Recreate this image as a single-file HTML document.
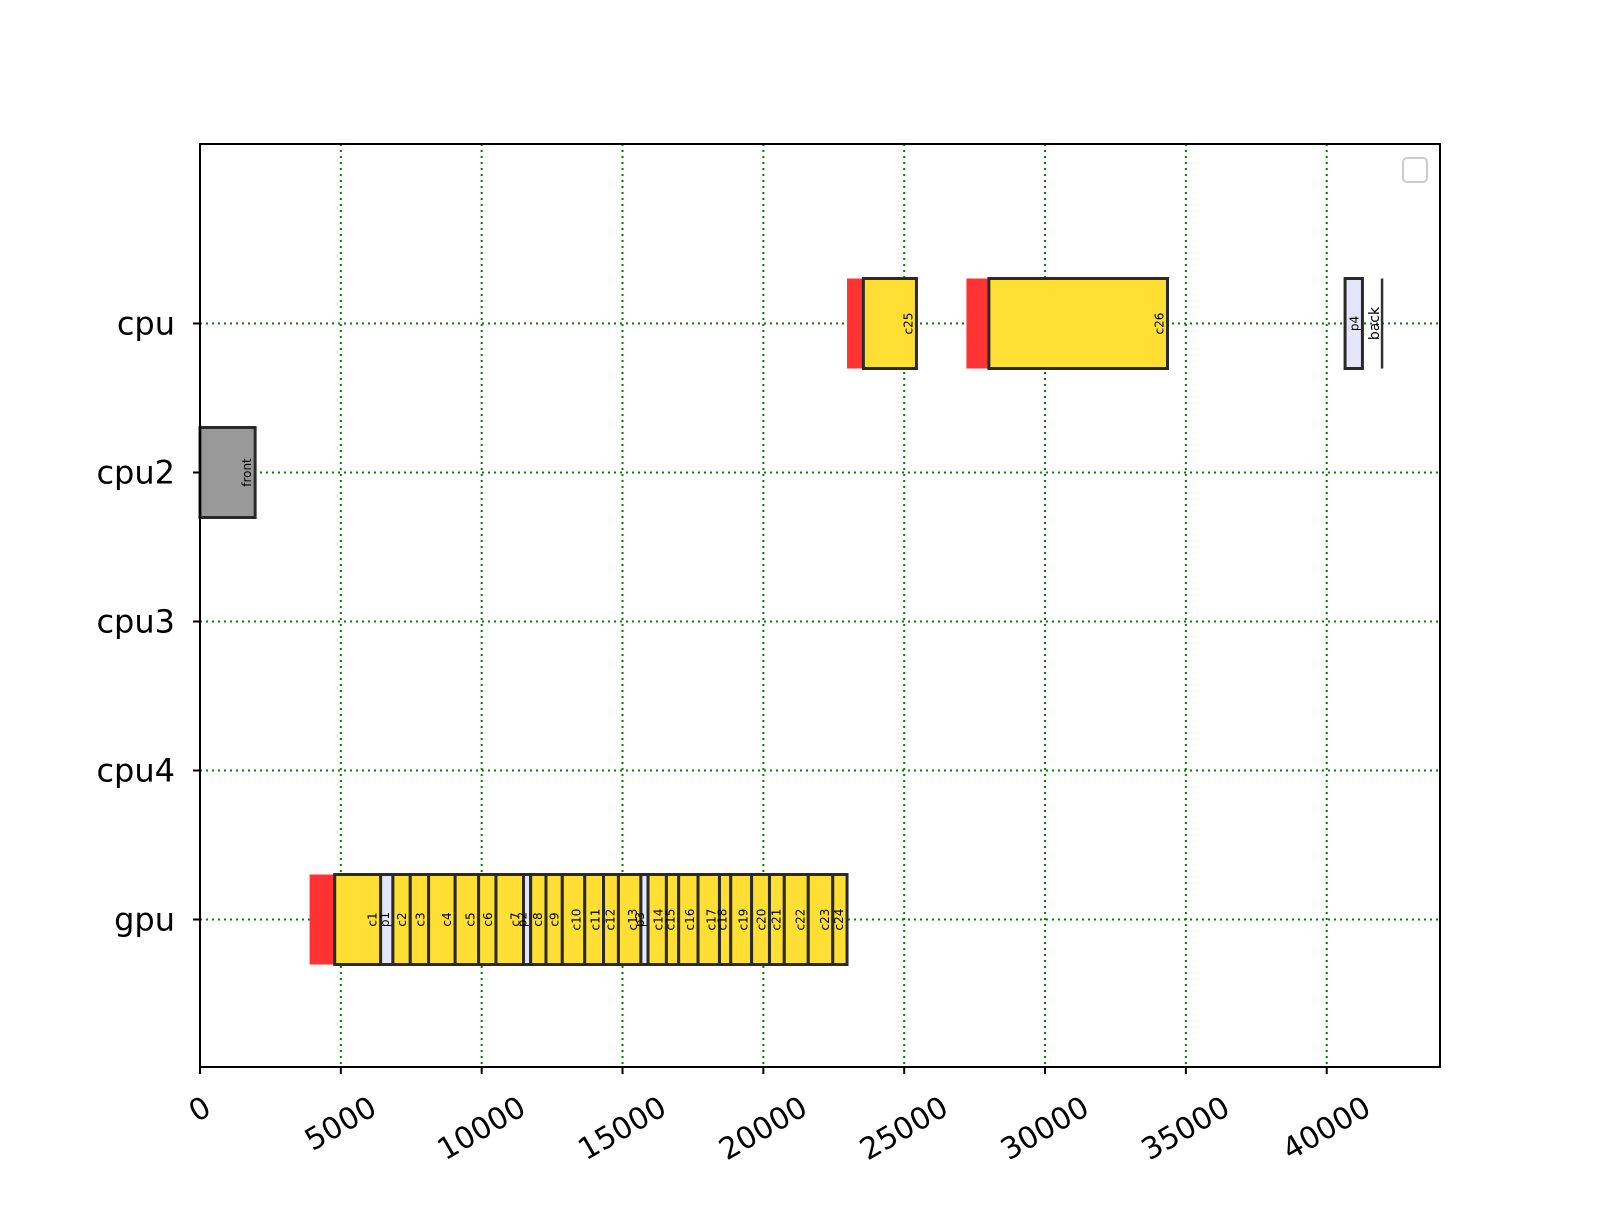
<!DOCTYPE html>
<html><head><meta charset="utf-8"><style>
body{margin:0;background:#fff}
svg{font-family:"DejaVu Sans","Liberation Sans",sans-serif}
</style></head><body>
<svg id="chart" width="1600" height="1200" viewBox="0 0 1600 1200" xmlns="http://www.w3.org/2000/svg">
<rect width="1600" height="1200" fill="#fff"/>
<g id="grid"></g>
<g id="bars"></g>
<rect x="200" y="144" width="1240" height="923" fill="none" stroke="#000" stroke-width="2"/>
<g id="ticks"></g>
<rect x="1403" y="158" width="24" height="24" rx="4" fill="#fff" stroke="#ccc" stroke-width="2"/>
</svg>
<script>
const rows = ["cpu","cpu2","cpu3","cpu4","gpu"];
const xTicks = [0,5000,10000,15000,20000,25000,30000,35000,40000];
const barRows = ["cpu2","gpu","gpu","gpu","gpu","gpu","gpu","gpu","gpu","gpu","gpu","gpu","gpu","gpu","gpu","gpu","gpu","gpu","gpu","gpu","gpu","gpu","gpu","gpu","gpu","gpu","gpu","gpu","gpu","cpu","cpu","cpu","cpu","cpu","cpu"];
const barLabels = ["front","","c1","p1","c2","c3","c4","c5","c6","c7","p2","c8","c9","c10","c11","c12","c13","p3","c14","c15","c16","c17","c18","c19","c20","c21","c22","c23","c24","","c25","","c26","p4","back"];
const barKinds = ["front","wait","c","p","c","c","c","c","c","c","p","c","c","c","c","c","c","p","c","c","c","c","c","c","c","c","c","c","c","wait","c","wait","c","p","back"];
const barStart = [0,3891,4783,6413,6848,7464,8116,9058,9891,10507,11486,11739,12283,12862,13659,14326,14855,15652,15906,16558,16993,17681,18442,18841,19583,20217,20743,21594,22464,22971,23551,27210,28007,40652,41920];
const barEnd = [1957,4783,6413,6848,7464,8116,9058,9891,10507,11486,11739,12283,12862,13659,14326,14855,15652,15906,16558,16993,17681,18442,18841,19583,20217,20743,21594,22464,22971,23551,25435,28007,34348,41268,41990];
const NS="http://www.w3.org/2000/svg";
const X0=200,X1=1440,XMAX=44022,YTOP=144,YBOT=1067;
const xs=v=>X0+v*(X1-X0)/XMAX;
const ys=r=>323.5+rows.indexOf(r)*149;
function mk(t,a,p){const e=document.createElementNS(NS,t);for(const k in a)e.setAttribute(k,a[k]);p.appendChild(e);return e;}
const grid=document.getElementById('grid'),bars=document.getElementById('bars'),ticks=document.getElementById('ticks');
const XFS=30;
xTicks.forEach(v=>{
 const l=mk('line',{x1:xs(v),x2:xs(v),y1:YTOP,y2:YBOT,stroke:'#008000','stroke-width':2,'stroke-dasharray':'2,4'},grid);
 
 
 const tk=mk('line',{x1:xs(v),x2:xs(v),y1:YBOT,y2:YBOT+7,stroke:'#000','stroke-width':2},ticks);
 
 
 const t=mk('text',{x:0,y:0,'font-size':XFS,'text-anchor':'middle','dominant-baseline':'central'},ticks);
 t.textContent=v;
 
 
 const w=t.getComputedTextLength();
 const bh=w*0.5+XFS*0.866;
 const cx=xs(v), cy=YBOT+25+bh/2;
 t.setAttribute('x',cx);t.setAttribute('y',cy);
 t.setAttribute('transform',`rotate(-30 ${cx} ${cy})`);
});
rows.forEach(r=>{
 const l=mk('line',{x1:X0,x2:X1,y1:ys(r),y2:ys(r),stroke:'#008000','stroke-width':2,'stroke-dasharray':'2,4'},grid);
 
 
 const tk=mk('line',{x1:X0-7,x2:X0,y1:ys(r),y2:ys(r),stroke:'#000','stroke-width':2},ticks);
 
 
 const t=mk('text',{x:175,y:ys(r)+11,'font-size':32,'text-anchor':'end'},ticks);
 t.textContent=r;
 
 
});
const fills={front:'#999999',wait:'#ff3333',c:'#ffdf33',p:'#e6e6fa',back:'#333333'};
barStart.forEach((s,i)=>{
 const x=xs(s),w=Math.max(xs(barEnd[i])-x,2.5),y=ys(barRows[i])-45,k=barKinds[i];
 const r=mk('rect',{x:x,y:y,width:w,height:90,fill:fills[k],stroke:k==='wait'?'none':'#2a2a2a','stroke-width':k==='back'?0:3},bars);
 
 
 if(barLabels[i]){
  const cx=xs(barEnd[i])-8, cy=ys(barRows[i]);
  const t=mk('text',{x:cx,y:cy,'font-size':k==='back'?14:12,'text-anchor':'middle','dominant-baseline':'central',transform:`rotate(-90 ${cx} ${cy})`},bars);
  t.textContent=barLabels[i];
  
  
 }
});
</script>
</body></html>
